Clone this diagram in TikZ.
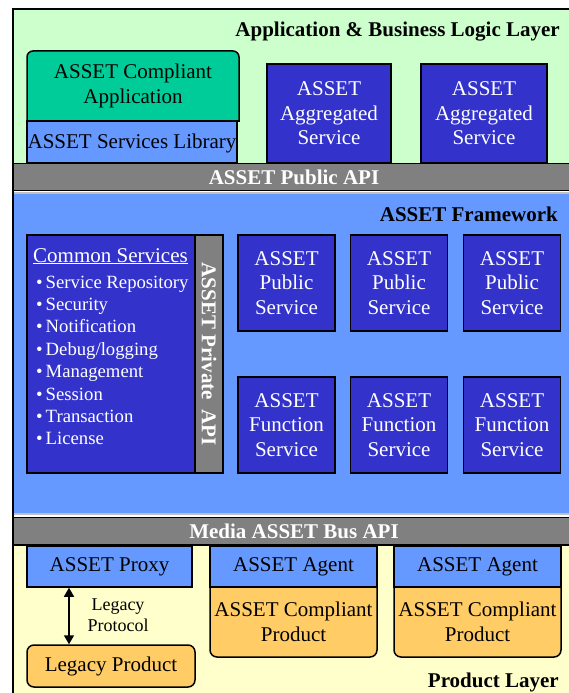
\documentclass[tikz,border=0pt]{standalone}
\usepackage{fontspec}
\setmainfont{Liberation Serif}
\usetikzlibrary{arrows.meta}
\definecolor{lgreen}{HTML}{CCFFCC}
\definecolor{tealapp}{HTML}{00CC99}
\definecolor{lblue}{HTML}{6699FF}
\definecolor{dblue}{HTML}{3333CC}
\definecolor{barg}{HTML}{808080}
\definecolor{lyel}{HTML}{FFFFCC}
\definecolor{orng}{HTML}{FFCC66}
\definecolor{lgray}{HTML}{C0C0C0}
\begin{document}
\begin{tikzpicture}[x=1pt,y=-1pt,
  box/.style={draw=black,line width=1.5pt},
  dbox/.style={box,fill=dblue,text=white,font=\fontsize{21}{24.5}\selectfont,align=center,inner sep=0pt},
  txt/.style={font=\fontsize{21}{24.5}\selectfont,align=center,inner sep=0pt},
  wtxt/.style={txt,text=white},
  ttl/.style={font=\fontsize{21}{24}\selectfont\bfseries,inner sep=0pt},
  bartxt/.style={ttl,text=white},
  item/.style={font=\fontsize{18.7}{22}\selectfont,text=white,inner sep=0pt,anchor=base west},
  rnd/.style={rounded corners=7pt}
]
\useasboundingbox (0,0) rectangle (569,693);
\begin{scope}
\clip (0,0) rectangle (569,693);
% layers
\fill[lgreen] (13,9) rectangle (600,163);
\fill[lblue] (13,192) rectangle (600,515);
\draw[lgray,line width=2pt] (13,193) -- (600,193);
\draw[lgray,line width=2pt] (13,514) -- (600,514);
\fill[white] (13,515) rectangle (600,517);
\fill[lyel] (13,545) rectangle (600,720);
\draw[box,fill=barg] (13,163.5) rectangle (600,190.5);
\draw[box,fill=barg] (13,517.5) rectangle (600,545);
% application layer
\node[ttl,anchor=base east] (applayer) at (560,37) {Application \& Business Logic Layer};
\draw[box,fill=tealapp] (27,121) [rounded corners=6pt] -- (27,51) -- (239,51) [sharp corners] -- (239,121) -- cycle;
\node[txt] (app) at (133,86) {ASSET Compliant\\Application};
\draw[box,fill=lblue] (27,121) rectangle (237,163);
\node[txt] (lib) at (132,143) {ASSET Services Library};
\node[dbox,minimum width=124,minimum height=99] (agg1) at (329,113.5) {ASSET\\Aggregated\\Service};
\node[dbox,minimum width=126,minimum height=99] (agg2) at (484,113.5) {ASSET\\Aggregated\\Service};
\node[bartxt] (pubapi) at (294,177) {ASSET Public API};
% framework
\node[ttl,anchor=base east] (fw) at (558,221) {ASSET Framework};
\draw[box,fill=dblue] (27,235) rectangle (195,473);
\draw[box,fill=barg] (195,235) rectangle (223,473);
\node[bartxt,rotate=-90] (priv) at (209,354) {ASSET Private\hspace{4pt} API};
\node[font=\fontsize{21}{24}\selectfont,text=white,inner sep=0pt,anchor=base west] (cs) at (33,262) {\underline{Common Services}};
\foreach \t [count=\i] in {Service Repository,Security,Notification,Debug/logging,Management,Session,Transaction,License}
  \node[item] (cs\i) at (36,{288+(\i-1)*22.4}) {•\hspace{3pt}\t};
\foreach \x [count=\j] in {286.5,399,512} {
  \node[dbox,minimum width=97,minimum height=96] (pub\j) at (\x,283) {ASSET\\Public\\Service};
  \node[dbox,minimum width=97,minimum height=96] (fun\j) at (\x,425) {ASSET\\Function\\Service};
}
\node[bartxt] (busapi) at (294,531) {Media ASSET Bus API};
% product layer
\draw[box,fill=orng] (210,587) [rounded corners=7pt] -- (210,657) -- (377,657) [sharp corners] -- (377,587) -- cycle;
\draw[box,fill=orng] (394,587) [rounded corners=7pt] -- (394,657) -- (561,657) [sharp corners] -- (561,587) -- cycle;
\node[txt] (prod1) at (293.5,622) {ASSET Compliant\\Product};
\node[txt] (prod2) at (477.5,622) {ASSET Compliant\\Product};
\node[box,fill=lblue,txt,minimum width=165,minimum height=41] (proxy) at (109.5,566.5) {ASSET Proxy};
\node[box,fill=lblue,txt,minimum width=167,minimum height=41] (agent1) at (293.5,566.5) {ASSET Agent};
\node[box,fill=lblue,txt,minimum width=167,minimum height=41] (agent2) at (477.5,566.5) {ASSET Agent};
\node[box,fill=orng,txt,rnd,minimum width=168,minimum height=42] (legacy) at (111,666) {Legacy Product};
\coordinate (ax) at (69,0);
\draw[line width=1.5pt,{Triangle[width=10pt,length=9pt]}-{Triangle[width=10pt,length=9pt]}] (proxy.south -| ax) -- (legacy.north -| ax);
\node[font=\fontsize{18}{21.5}\selectfont,align=center,inner sep=0pt] (proto) at (118,615) {Legacy\\Protocol};
\node[ttl,anchor=base east] (prodlayer) at (559,687) {Product Layer};
% outer frame
\draw[line width=2pt] (13,9) rectangle (600,720);
\end{scope}
\end{tikzpicture}
\end{document}
